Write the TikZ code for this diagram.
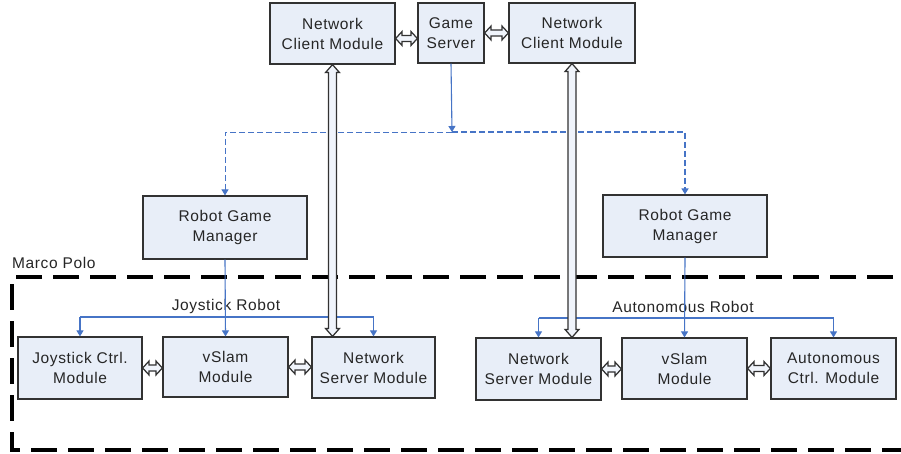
\documentclass[tikz,border=0pt]{standalone}
\usepackage{fontspec}
\setmainfont{Liberation Sans}[LetterSpace=4]
\usetikzlibrary{arrows.meta,calc}

\definecolor{boxfill}{RGB}{232,238,248}
\definecolor{boxline}{RGB}{50,50,50}
\definecolor{linkblue}{RGB}{70,116,198}
\definecolor{fatfill}{RGB}{240,244,251}

% horizontal hollow double arrow between two points at the same height
\newcommand\hfat[2]{%
  \draw[fatarrow] let \p1=#1, \p2=#2 in
    (\x1,\y1) -- (\x1+6.5pt,\y1+7pt) -- (\x1+6.5pt,\y1+3pt) -- (\x2-6.5pt,\y1+3pt)
    -- (\x2-6.5pt,\y1+7pt) -- (\x2,\y1) -- (\x2-6.5pt,\y1-7pt) -- (\x2-6.5pt,\y1-3pt)
    -- (\x1+6.5pt,\y1-3pt) -- (\x1+6.5pt,\y1-7pt) -- cycle;}
% vertical hollow double arrow from an upper point down to a lower one
\newcommand\vfat[2]{%
  \draw[fatarrow] let \p1=#1, \p2=#2 in
    (\x1,\y1) -- (\x1+7pt,\y1-8pt) -- (\x1+4pt,\y1-8pt) -- (\x1+4pt,\y2+8pt)
    -- (\x1+7pt,\y2+8pt) -- (\x1,\y2) -- (\x1-7pt,\y2+8pt) -- (\x1-4pt,\y2+8pt)
    -- (\x1-4pt,\y1-8pt) -- (\x1-7pt,\y1-8pt) -- cycle;}

\tikzset{
  txt/.style={font=\fontsize{15.5pt}{20pt}\selectfont, text=black!85},
  module/.style={txt, draw=boxline, fill=boxfill, line width=1.2pt,
    align=center, inner sep=0pt},
  fatarrow/.style={draw=boxline, fill=fatfill, line width=1.25pt, line join=miter},
  link/.style={draw=linkblue, line width=1.1pt,
    -{Triangle[width=7pt,length=6pt]}},
  bus/.style={draw=linkblue, line width=1.1pt},
  dlink/.style={link, dash pattern=on 6pt off 3pt},
  border/.style={draw=black, line width=3.6pt, dash pattern=on 26pt off 11pt}
}

\begin{document}
\begin{tikzpicture}[x=1pt,y=-1pt]
\useasboundingbox (0,0) rectangle (901,454);
\clip (0,0) rectangle (901,454);
\fill[white] (0,0) rectangle (901,454);

% Marco Polo enclosure (runs past the right edge)
\draw[border] (930,277) -- (12,277) -- (12,450) -- (930,450);
\node[txt, anchor=base west, inner sep=0pt] (mp) at (12,268) {Marco Polo};

% server side
\node[module, minimum width=125pt, minimum height=61pt] (ncl) at (332.5,33.5) {Network\\Client Module};
\node[module, minimum width=66pt,  minimum height=60pt] (gs)  at (451,33)    {Game\\Server};
\node[module, minimum width=126pt, minimum height=60pt] (ncr) at (572,33)    {Network\\Client Module};

% game managers
\node[module, minimum width=164pt, minimum height=63pt] (rgml) at (225,227.5) {Robot Game\\Manager};
\node[module, minimum width=164pt, minimum height=62pt] (rgmr) at (685,226)   {Robot Game\\Manager};

% joystick robot
\node[module, minimum width=124pt, minimum height=62pt] (jcm) at (80,368)    {Joystick Ctrl.\\Module};
\node[module, minimum width=125pt, minimum height=60pt] (vsl) at (225.5,367) {vSlam\\Module};
\node[module, minimum width=123pt, minimum height=61pt] (nsl) at (373.5,367.5) {Network\\Server Module};

% autonomous robot
\node[module, minimum width=125pt, minimum height=62pt] (nsr) at (538.5,369) {Network\\Server Module};
\node[module, minimum width=125pt, minimum height=61pt] (vsr) at (684.5,368.5) {vSlam\\Module};
\node[module, minimum width=125pt, minimum height=61pt] (acm) at (833.5,368.5) {Autonomous\\Ctrl. Module};

\node[txt, inner sep=0pt] (jrl) at (226,306) {Joystick Robot};
\node[txt, inner sep=0pt] (arl) at (683,307) {Autonomous Robot};

% game server fan-out to the managers
\coordinate (split) at (452,132);
\draw[link] (gs.south) -- (split);
\draw[dlink, line width=0.9pt] (split) -| (rgml.north);
\draw[dlink, line width=1.6pt] (split) -| (rgmr.north);

% joystick robot bus
\coordinate (jbl) at (jcm.north |- 0,317);
\coordinate (jbr) at (nsl.north |- 0,317);
\draw[link] (rgml.south) -- (vsl.north);
\draw[bus] (jbl) -- (jbr);
\draw[link] (jbl) -- (jcm.north);
\draw[link] (jbr) -- (nsl.north);

% autonomous robot bus
\coordinate (abl) at (nsr.north |- 0,318);
\coordinate (abr) at (acm.north |- 0,318);
\draw[link] (rgmr.south) -- (vsr.north);
\draw[bus] (abl) -- (abr);
\draw[link] (abl) -- (nsr.north);
\draw[link] (abr) -- (acm.north);

% client/server links
\hfat{([yshift=-5pt]ncl.east)}{([yshift=-5pt]gs.west)}
\hfat{(gs.east)}{(ncr.west)}
\vfat{(ncl.south)}{(ncl.south |- nsl.north)}
\vfat{(ncr.south)}{(ncr.south |- nsr.north)}

% module links
\hfat{(jcm.east)}{(vsl.west)}
\hfat{(vsl.east)}{(nsl.west)}
\hfat{(nsr.east)}{(vsr.west)}
\hfat{(vsr.east)}{(acm.west)}
\end{tikzpicture}
\end{document}
